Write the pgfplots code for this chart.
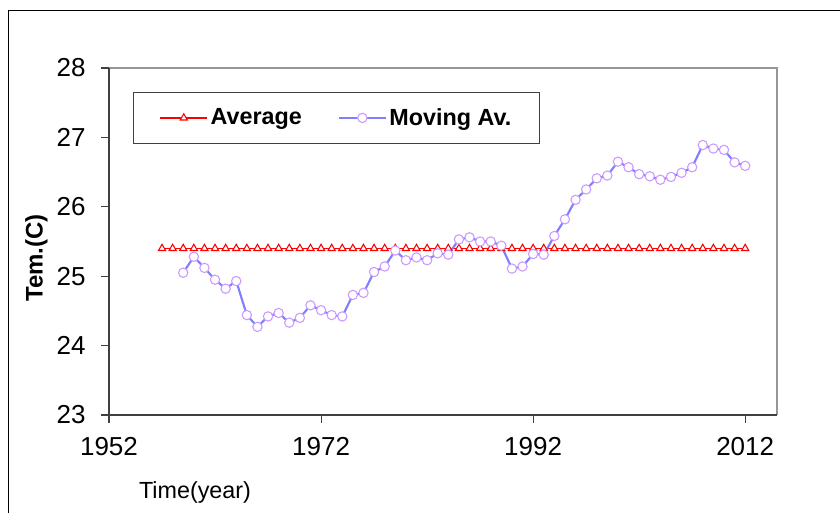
\documentclass[border=0pt]{standalone}
\usepackage{pgfplots}
\pgfplotsset{compat=1.18}
\usepackage{fontspec}
\setmainfont{Liberation Sans}
\definecolor{mavline}{RGB}{128,128,255}
\definecolor{mavmark}{RGB}{204,153,255}
\definecolor{axdark}{RGB}{64,64,64}
\definecolor{axgray}{RGB}{150,150,150}
\begin{document}
\begin{tikzpicture}[x=1pt,y=1pt]
\path[use as bounding box] (0,0) rectangle (630,384.75);
\draw[line width=1pt,black] (6.3,-1) -- (6.3,376.7) -- (631,376.7);
\begin{axis}[
  at={(81.75pt,73.5pt)}, anchor=south west,
  scale only axis, width=501pt, height=260.25pt,
  xmin=1952, xmax=2015, ymin=23, ymax=28,
  xtick={1952,1972,1992,2012}, ytick={23,24,25,26,27,28},
  /pgf/number format/assume math mode=true,
  /pgf/number format/1000 sep={},
  tick label style={font=\fontsize{19.5}{20}\selectfont},
  yticklabel style={xshift=-8pt},
  xticklabel style={yshift=-7pt},
  tick align=outside, major tick length=6pt,
  xtick pos=bottom, ytick pos=left,
  tick style={axdark, line width=0.8pt},
  axis line style={draw=none},
  clip=false,
  legend style={at={(0.0359,0.931)}, anchor=north west, draw=black!75, line width=0.8pt,
    inner xsep=19.5pt, inner ysep=10pt,
    font=\bfseries\fontsize{17.5}{18}\selectfont,
    /tikz/every even column/.append style={column sep=25pt}},
  legend columns=2,
  legend image code/.code={\draw[mark repeat=2,mark phase=2,#1] plot coordinates {(0pt,0pt) (17.5pt,0pt) (35pt,0pt)};},
]
\draw[axgray, line width=1.5pt] (rel axis cs:0,1) -- (rel axis cs:1,1) -- (rel axis cs:1,0);
\draw[axdark, line width=1pt] (rel axis cs:0,1) -- (rel axis cs:0,0) -- (rel axis cs:1,0);
\addplot[red, line width=1.4pt, mark=triangle*, mark size=3.1pt, mark options={fill=white, draw=red, line width=0.8pt}] table {
x y
1957 25.4
1958 25.4
1959 25.4
1960 25.4
1961 25.4
1962 25.4
1963 25.4
1964 25.4
1965 25.4
1966 25.4
1967 25.4
1968 25.4
1969 25.4
1970 25.4
1971 25.4
1972 25.4
1973 25.4
1974 25.4
1975 25.4
1976 25.4
1977 25.4
1978 25.4
1979 25.4
1980 25.4
1981 25.4
1982 25.4
1983 25.4
1984 25.4
1985 25.4
1986 25.4
1987 25.4
1988 25.4
1989 25.4
1990 25.4
1991 25.4
1992 25.4
1993 25.4
1994 25.4
1995 25.4
1996 25.4
1997 25.4
1998 25.4
1999 25.4
2000 25.4
2001 25.4
2002 25.4
2003 25.4
2004 25.4
2005 25.4
2006 25.4
2007 25.4
2008 25.4
2009 25.4
2010 25.4
2011 25.4
2012 25.4
};
\addlegendentry{Average}
\addplot[mavline, line width=1.6pt, mark=*, mark size=3.5pt, mark options={fill=white, draw=mavmark, line width=0.8pt}] table {
x y
1959 25.05
1960 25.28
1961 25.12
1962 24.95
1963 24.82
1964 24.93
1965 24.44
1966 24.27
1967 24.42
1968 24.47
1969 24.33
1970 24.40
1971 24.58
1972 24.51
1973 24.44
1974 24.42
1975 24.73
1976 24.76
1977 25.06
1978 25.14
1979 25.37
1980 25.23
1981 25.27
1982 25.23
1983 25.33
1984 25.31
1985 25.53
1986 25.56
1987 25.50
1988 25.50
1989 25.44
1990 25.11
1991 25.14
1992 25.32
1993 25.31
1994 25.58
1995 25.82
1996 26.10
1997 26.25
1998 26.41
1999 26.45
2000 26.65
2001 26.57
2002 26.47
2003 26.44
2004 26.39
2005 26.43
2006 26.49
2007 26.57
2008 26.89
2009 26.84
2010 26.82
2011 26.64
2012 26.59
};
\addlegendentry{Moving Av.}
\end{axis}
\node[rotate=90, font=\bfseries\fontsize{18}{18}\selectfont] at (27.4,191.25) {Tem.(C)};
\node[font=\fontsize{17.5}{18}\selectfont] at (146.25,15.75) {Time(year)};
\end{tikzpicture}
\end{document}
